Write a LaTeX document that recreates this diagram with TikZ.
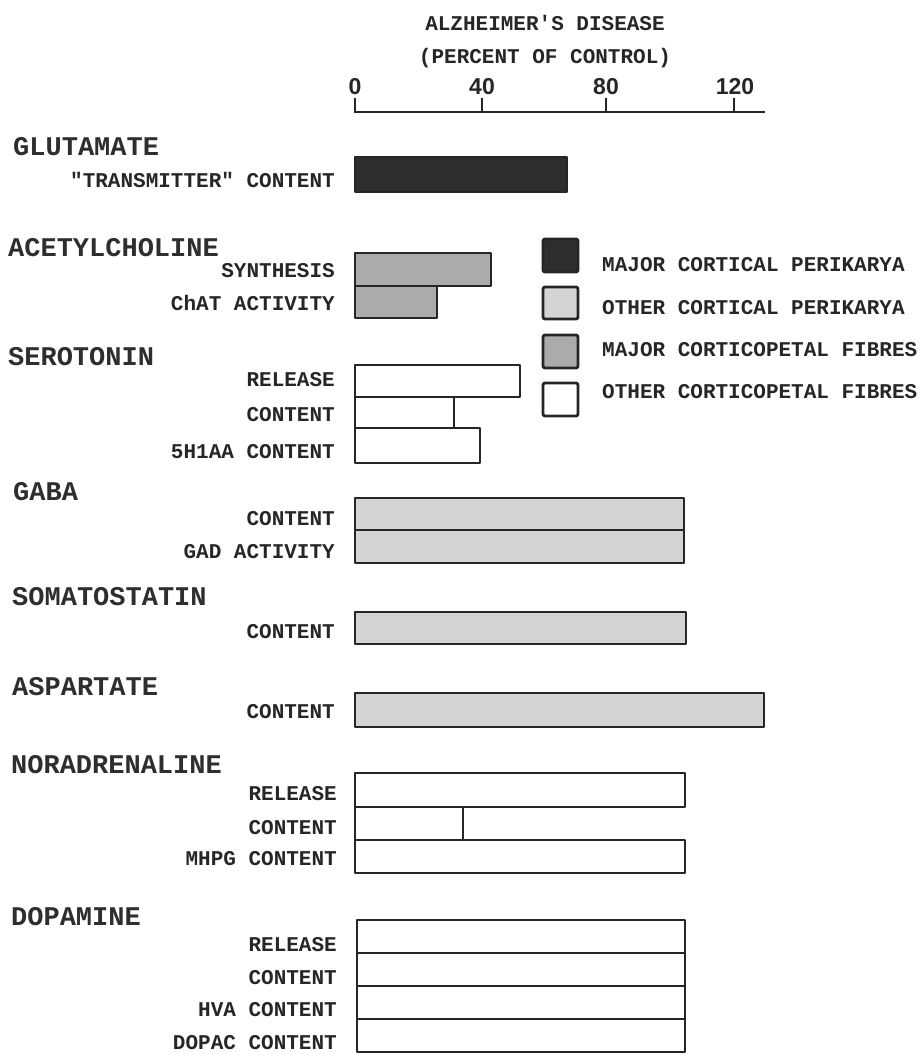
\documentclass[tikz,border=0pt]{standalone}
\usepackage{fontspec}
\newfontfamily\mono{Liberation Mono}
\newfontfamily\numfont{Liberation Sans}
\begin{document}
\begin{tikzpicture}[x=1pt,y=-1pt,
  hdr/.style={anchor=west, inner sep=0, text=black!82, font=\mono\fontsize{27}{29}\selectfont\bfseries},
  lbl/.style={anchor=east, inner sep=0, text=black!85, font=\mono\fontsize{21}{23}\selectfont\bfseries},
  leg/.style={anchor=west, inner sep=0, text=black!85, font=\mono\fontsize{21}{23}\selectfont\bfseries},
  ttl/.style={inner sep=0, text=black!85, font=\mono\fontsize{21}{23}\selectfont\bfseries},
  ticklbl/.style={inner sep=0, text=black!85, font=\numfont\fontsize{23}{25}\selectfont\bfseries},
  axisline/.style={draw=black!85, line width=2.8pt},
  barline/.style={draw=black!85, line width=2.8pt, line join=round},
  majperi/.style={barline, fill=black!82},
  othperi/.style={barline, fill=black!17},
  majfib/.style={barline, fill=black!33},
  othfib/.style={barline, fill=white}]
\useasboundingbox (0,0) rectangle (919,1055);
\fill[white] (0,0) rectangle (919,1055);

% title and axis
\node[ttl] (t1) at (545,23) {ALZHEIMER'S DISEASE};
\node[ttl] (t2) at (545,58) {(PERCENT OF CONTROL)};
\node[ticklbl] (k0) at (355,87) {0};
\node[ticklbl] (k40) at (482,87) {40};
\node[ticklbl] (k80) at (606,87) {80};
\node[ticklbl] (k120) at (735,87) {120};
\coordinate (a0) at (355,112);
\coordinate (aend) at (765,112);
\draw[axisline] (355,98) -- (a0) -- (aend);
\draw[axisline] (482,98) -- (482,112);
\draw[axisline] (606,98) -- (606,112);
\draw[axisline] (734,98) -- (734,112);

% headers
\node[hdr] (hglu) at (13,147) {GLUTAMATE};
\node[hdr] (hach) at (8,248) {ACETYLCHOLINE};
\node[hdr] (hser) at (8,357) {SEROTONIN};
\node[hdr] (hgaba) at (13,492) {GABA};
\node[hdr] (hsom) at (12,597) {SOMATOSTATIN};
\node[hdr] (hasp) at (12,687) {ASPARTATE};
\node[hdr] (hna) at (11,765) {NORADRENALINE};
\node[hdr] (hda) at (11,917) {DOPAMINE};

% sublabels
\node[lbl] (l1) at (335,180) {"TRANSMITTER" CONTENT};
\node[lbl] (l2) at (335,271) {SYNTHESIS};
\node[lbl] (l3) at (335,303) {ChAT ACTIVITY};
\node[lbl] (l4) at (335,380) {RELEASE};
\node[lbl] (l5) at (335,415) {CONTENT};
\node[lbl] (l6) at (335,452) {5H1AA CONTENT};
\node[lbl] (l7) at (335,519) {CONTENT};
\node[lbl] (l8) at (335,552) {GAD ACTIVITY};
\node[lbl] (l9) at (335,632) {CONTENT};
\node[lbl] (l10) at (335,712) {CONTENT};
\node[lbl] (l11) at (337,794) {RELEASE};
\node[lbl] (l12) at (337,828) {CONTENT};
\node[lbl] (l13) at (337,859) {MHPG CONTENT};
\node[lbl] (l14) at (337,945) {RELEASE};
\node[lbl] (l15) at (337,978) {CONTENT};
\node[lbl] (l16) at (337,1010) {HVA CONTENT};
\node[lbl] (l17) at (337,1043) {DOPAC CONTENT};

% bars
\draw[majperi] (355,157) rectangle (567,192);
\draw[majfib] (355,253) rectangle (491,286);
\draw[majfib] (355,286) rectangle (437,318);
\draw[othfib] (355,365) rectangle (520,397);
\draw[othfib] (355,397) rectangle (454,428);
\draw[othfib] (355,428) rectangle (480,463);
\draw[othperi] (355,498) rectangle (684,530);
\draw[othperi] (355,530) rectangle (684,563);
\draw[othperi] (355,612) rectangle (686,644);
\draw[othperi] (355,693) rectangle (764,727);
\draw[othfib] (355,773) rectangle (685,807);
\draw[othfib] (355,807) rectangle (463,840);
\draw[othfib] (355,840) rectangle (685,873);
\draw[othfib] (357,920) rectangle (685,953);
\draw[othfib] (357,953) rectangle (685,986);
\draw[othfib] (357,986) rectangle (685,1019);
\draw[othfib] (357,1019) rectangle (685,1052);

% legend
\draw[majperi, rounded corners=2pt] (543,239) rectangle (578,272);
\draw[othperi, rounded corners=2pt] (543,287) rectangle (578,319);
\draw[majfib, rounded corners=2pt] (543,335) rectangle (578,368);
\draw[othfib, rounded corners=2pt] (543,383) rectangle (578,416);
\node[leg] (g1) at (602,265) {MAJOR CORTICAL PERIKARYA};
\node[leg] (g2) at (602,308) {OTHER CORTICAL PERIKARYA};
\node[leg] (g3) at (602,350) {MAJOR CORTICOPETAL FIBRES};
\node[leg] (g4) at (602,392) {OTHER CORTICOPETAL FIBRES};
\end{tikzpicture}
\end{document}
